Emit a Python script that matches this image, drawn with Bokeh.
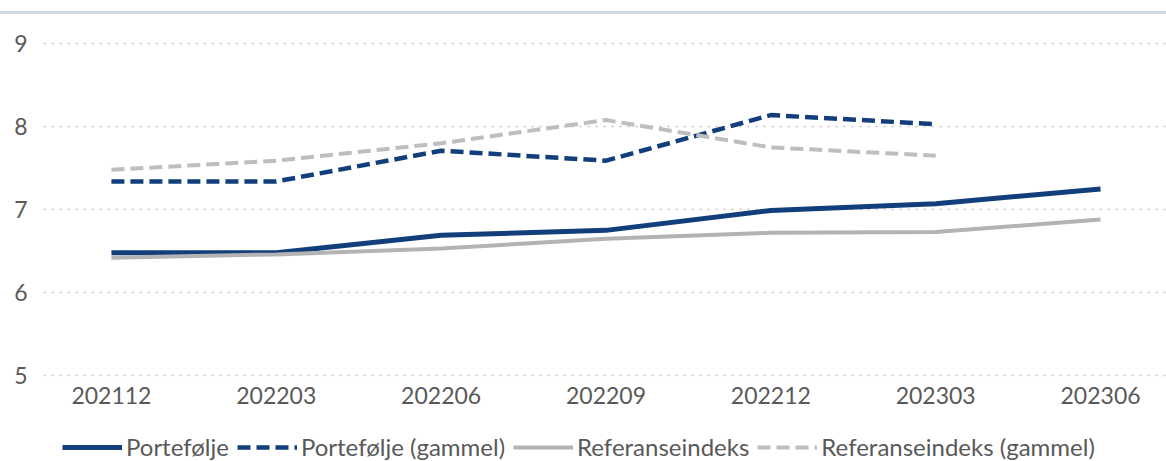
from bokeh.plotting import figure
from bokeh.models import Legend, LegendItem, Div, FixedTicker
from bokeh.layouts import column
from bokeh.embed import file_html
from bokeh.resources import INLINE

categories = ["202112", "202203", "202206", "202209", "202212", "202303", "202306"]
portefolje = [6.48, 6.48, 6.69, 6.75, 6.99, 7.07, 7.25]
portefolje_gammel = [7.34, 7.34, 7.71, 7.59, 8.14, 8.03]
referanse = [6.42, 6.46, 6.53, 6.65, 6.72, 6.73, 6.88]
referanse_gammel = [7.48, 7.59, 7.80, 8.08, 7.75, 7.65]
series_names = ["Portefølje", "Portefølje (gammel)", "Referanseindeks", "Referanseindeks (gammel)"]
y_ticks = [5, 6, 7, 8, 9]

FONT = "Lato"
TXT = "#595959"
BLUE = "#123f7c"
GRAY = "#b3b3b3"
GRAY_D = "#bebebe"
DASH = "13 6"

styles = [
    dict(line_color=BLUE, line_width=5),
    dict(line_color=BLUE, line_width=4.5, line_dash=DASH),
    dict(line_color=GRAY, line_width=4),
    dict(line_color=GRAY_D, line_width=4, line_dash=DASH),
]

xs = list(range(len(categories)))

top = Div(width=1166, height=14, margin=(0, 0, 0, 0),
          styles={"border-bottom": "3px solid #cddbdf", "box-sizing": "border-box"})

p = figure(width=1166, height=410,
           x_range=(-0.412, 6.4), y_range=(4.94, 9.28),
           output_backend="svg", toolbar_location=None,
           min_border_top=6, min_border_left=43, min_border_right=0, min_border_bottom=44,
           margin=(0, 0, 0, 0))
p.outline_line_color = None
p.background_fill_color = "white"
p.border_fill_color = "white"

p.line(xs, portefolje, **styles[0])
p.line(xs[:len(portefolje_gammel)], portefolje_gammel, **styles[1])
p.line(xs, referanse, **styles[2])
p.line(xs[:len(referanse_gammel)], referanse_gammel, **styles[3])

p.xgrid.grid_line_color = None
p.ygrid.ticker = FixedTicker(ticks=y_ticks)
p.ygrid.grid_line_color = "#c4c4c4"
p.ygrid.grid_line_dash = "2 6"
p.ygrid.grid_line_width = 1.5

p.yaxis.ticker = FixedTicker(ticks=y_ticks)
p.xaxis.ticker = FixedTicker(ticks=xs)
p.xaxis.major_label_overrides = {i: c for i, c in enumerate(categories)}
for ax in (p.xaxis[0], p.yaxis[0]):
    ax.axis_line_color = None
    ax.major_tick_line_color = None
    ax.minor_tick_line_color = None
    ax.major_tick_out = 0
    ax.major_tick_in = 0
    ax.minor_tick_out = 0
    ax.major_label_text_font = FONT
    ax.major_label_text_font_size = "23px"
    ax.major_label_text_color = TXT
p.yaxis.major_label_standoff = 16
p.xaxis.major_label_standoff = 6

# legend panel: a small figure holding only the legend (its renderers hold no visible data)
lp = figure(width=1166, height=37, x_range=(0, 1), y_range=(0, 1),
            output_backend="svg", toolbar_location=None,
            min_border=0, margin=(0, 0, 0, 0))
lp.axis.visible = False
lp.grid.visible = False
lp.outline_line_color = None
lp.border_fill_color = "white"
items = []
nan = float("nan")
for name, st in zip(series_names, styles):
    r = lp.line(x=[nan], y=[nan], **st)
    items.append(LegendItem(label=name, renderers=[r]))

legend = Legend(items=items, orientation="horizontal", location=(19, 0))
legend.glyph_width = 60
legend.glyph_height = 22
legend.label_height = 22
legend.label_standoff = 4
legend.spacing = 8
legend.padding = 0
legend.margin = 0
legend.border_line_color = None
legend.background_fill_alpha = 0
legend.label_text_font = FONT
legend.label_text_font_size = "24px"
legend.label_text_color = TXT
lp.add_layout(legend, "center")

layout = column(top, p, lp, spacing=0)
open("out.html", "w").write(file_html(layout, INLINE))
